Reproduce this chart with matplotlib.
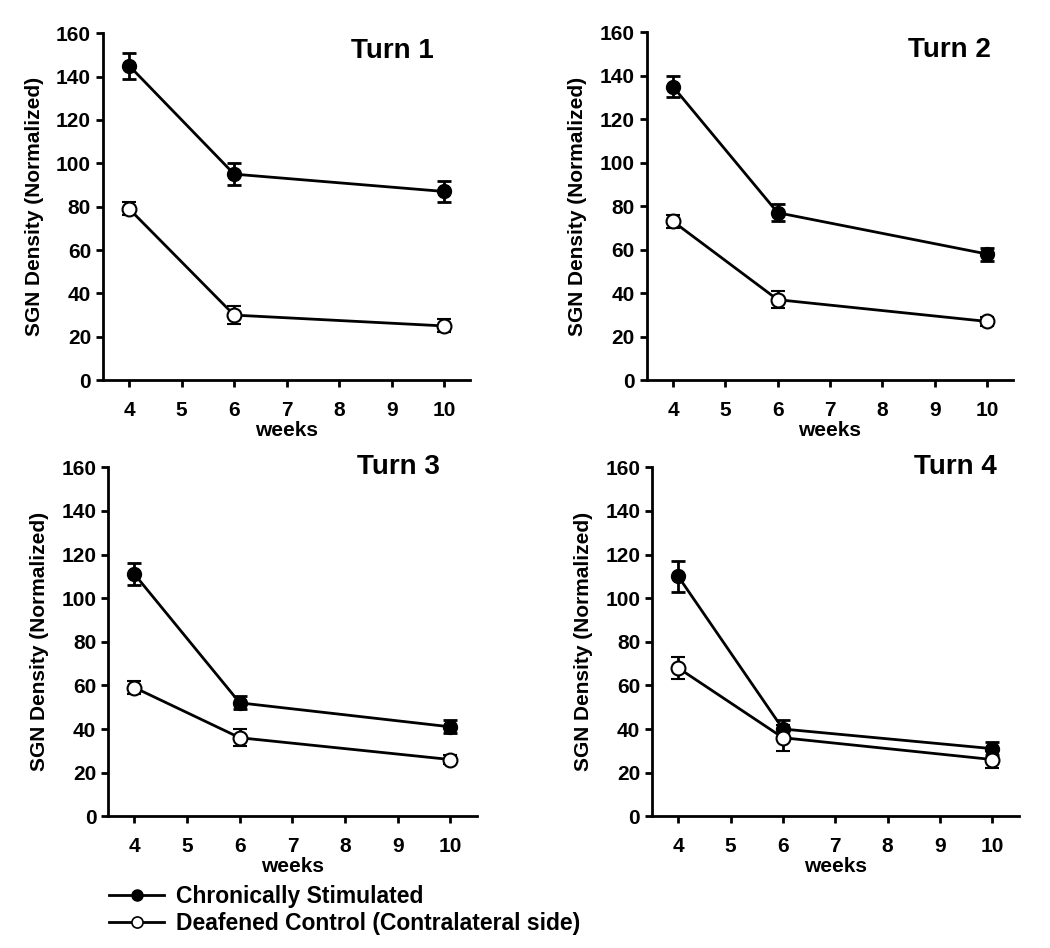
import matplotlib
matplotlib.use("Agg")
import matplotlib.pyplot as plt
from matplotlib.lines import Line2D

plt.rcParams['font.family'] = ['Liberation Sans', 'DejaVu Sans']
plt.rcParams['font.weight'] = 'bold'

weeks = [4, 6, 10]
turns = ["Turn 1", "Turn 2", "Turn 3", "Turn 4"]

# chronically stimulated, mean and sem
stim_mean = [[145, 95, 87], [135, 77, 58], [111, 52, 41], [110, 40, 31]]
stim_err = [[6, 5, 5], [5, 4, 3], [5, 3, 3], [7, 4, 3]]
# deafened control (contralateral side)
ctrl_mean = [[79, 30, 25], [73, 37, 27], [59, 36, 26], [68, 36, 26]]
ctrl_err = [[3, 4, 3], [3, 4, 2], [3, 4, 2], [5, 6, 4]]

labels = ["Chronically Stimulated", "Deafened Control (Contralateral side)"]

dpi = 100
fig = plt.figure(figsize=(1050 / dpi, 948 / dpi), dpi=dpi)

boxes = [[0.098, 0.599, 0.350, 0.366],
         [0.616, 0.599, 0.349, 0.367],
         [0.103, 0.139, 0.351, 0.368],
         [0.621, 0.139, 0.349, 0.368]]
title_pos = [(0.90, 0.95), (0.94, 0.95), (0.90, 1.0), (0.94, 1.0)]

for k in range(4):
    ax = fig.add_axes(boxes[k])
    ax.errorbar(weeks, stim_mean[k], yerr=stim_err[k], color='black',
                marker='o', markersize=10, markerfacecolor='black',
                markeredgecolor='black', lw=2, elinewidth=2, capsize=5,
                capthick=2, zorder=3)
    ax.errorbar(weeks, ctrl_mean[k], yerr=ctrl_err[k], color='black',
                marker='o', markersize=10, markerfacecolor='white',
                markeredgecolor='black', markeredgewidth=1.5, lw=2,
                elinewidth=2, capsize=5, capthick=2, zorder=3)
    ax.set_xlim(3.5, 10.5)
    ax.set_ylim(0, 160)
    ax.set_xticks(range(4, 11))
    ax.set_yticks(range(0, 161, 20))
    ax.spines['top'].set_visible(False)
    ax.spines['right'].set_visible(False)
    ax.spines['left'].set_linewidth(2)
    ax.spines['bottom'].set_linewidth(2)
    ax.tick_params(direction='out', length=5, width=2, labelsize=15)
    ax.tick_params(axis='x', pad=10)
    for lab in ax.get_xticklabels() + ax.get_yticklabels():
        lab.set_fontweight('bold')
    ax.set_xlabel("weeks", fontsize=15, fontweight='bold', labelpad=1)
    ax.set_ylabel("SGN Density (Normalized)", fontsize=15,
                  fontweight='bold', labelpad=9)
    ax.text(title_pos[k][0], title_pos[k][1], turns[k], transform=ax.transAxes,
            ha='right', va='center', fontsize=20, fontweight='bold')

handles = [Line2D([], [], color='black', lw=2, marker='o', markersize=8,
                  markerfacecolor='black'),
           Line2D([], [], color='black', lw=2, marker='o', markersize=8,
                  markerfacecolor='white', markeredgewidth=1.2)]
fig.legend(handles, labels, loc='upper left', bbox_to_anchor=(0.093, 0.079),
           frameon=False, handlelength=2.4, labelspacing=0.2,
           borderpad=0, handletextpad=0.5,
           prop={'weight': 'bold', 'size': 16.5})

fig.savefig("out.png", dpi=dpi)
